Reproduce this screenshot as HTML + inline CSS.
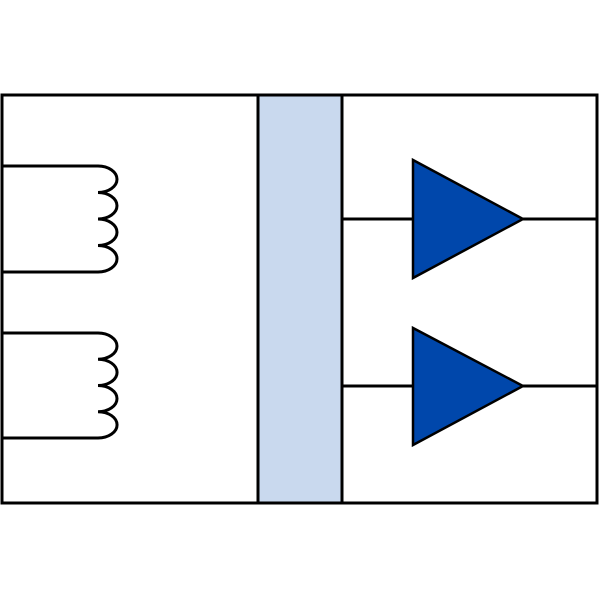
<!DOCTYPE html>
<html><head><style>body{margin:0;background:#fff}</style></head><body>
<svg width="600" height="600" viewBox="0 0 600 600" xmlns="http://www.w3.org/2000/svg">
<rect x="2" y="95" width="595" height="408" fill="#fff" stroke="#000" stroke-width="3"/>
<rect x="258" y="95" width="84" height="408" fill="#c9d9ee" stroke="#000" stroke-width="3"/>
<g fill="none" stroke="#000" stroke-width="3">
<path d="M3 166 H98 A19 13.25 0 0 1 98 192.5 A19 13.25 0 0 1 98 219 A19 13.25 0 0 1 98 245.5 A19 13.25 0 0 1 98 272 H3"/>
<path d="M3 333 H98 A19 13.1 0 0 1 98 359.2 A19 13.1 0 0 1 98 385.5 A19 13.1 0 0 1 98 411.7 A19 13.1 0 0 1 98 438 H3"/>
<path d="M342 219 H413 M523 219 H597 M342 386 H413 M523 386 H597"/>
</g>
<g fill="#0047ab" stroke="#000" stroke-width="2.5">
<polygon points="413,160 413,278 523,219"/>
<polygon points="413,328 413,445 523,386"/>
</g>
</svg>
</body></html>
